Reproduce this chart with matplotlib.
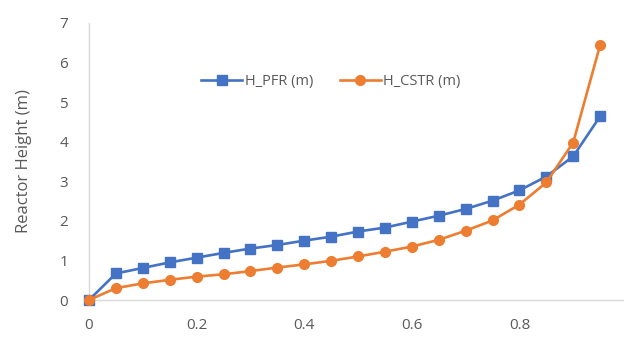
import numpy as np
import matplotlib
matplotlib.use('Agg')
import matplotlib.pyplot as plt

conversion = [0, 0.05, 0.1, 0.15, 0.2, 0.25, 0.3, 0.35, 0.4, 0.45,
              0.5, 0.55, 0.6, 0.65, 0.7, 0.75, 0.8, 0.85, 0.9, 0.95]
h_pfr = [0, 0.67, 0.81, 0.95, 1.07, 1.19, 1.30, 1.39, 1.50, 1.60,
         1.73, 1.83, 1.98, 2.13, 2.30, 2.51, 2.77, 3.12, 3.63, 4.64]
h_cstr = [0, 0.30, 0.42, 0.51, 0.59, 0.65, 0.73, 0.82, 0.90, 0.99,
          1.10, 1.22, 1.35, 1.52, 1.75, 2.01, 2.41, 2.97, 3.98, 6.44]

plt.rcParams['font.family'] = ['Open Sans', 'DejaVu Sans']

fig = plt.figure(figsize=(6.24, 3.4), dpi=100)
ax = fig.add_axes([89/624, 40/340, 538/624, 277/340])

ax.plot(conversion, h_pfr, color='#4472C4', lw=1.9, marker='s', ms=6.5,
        label='H_PFR (m)', clip_on=False, zorder=3)
ax.plot(conversion, h_cstr, color='#ED7D31', lw=1.9, marker='o', ms=7,
        label='H_CSTR (m)', clip_on=False, zorder=4)

ax.set_xlim(0, 1)
ax.set_ylim(0, 7)
ax.set_xticks(np.arange(0, 1.01, 0.2))
ax.set_xticklabels(['0', '0.2', '0.4', '0.6', '0.8', '1'])
ax.set_yticks(range(8))

for s in ['top', 'right']:
    ax.spines[s].set_visible(False)
for s in ['left', 'bottom']:
    ax.spines[s].set_color('#D9D9D9')
    ax.spines[s].set_linewidth(1)

ax.tick_params(length=0, colors='#595959', labelsize=11)
ax.tick_params(axis='x', pad=13)
ax.tick_params(axis='y', pad=15)
ax.set_ylabel('Reactor Height (m)', color='#595959', fontsize=12,
              labelpad=20)

ax.legend(loc='center', bbox_to_anchor=(0.45, 0.79), ncol=2, frameon=False,
          fontsize=10.5, labelcolor='#595959', handlelength=2.8,
          columnspacing=1.8, handletextpad=0.2)

fig.savefig('out.png', dpi=100)
